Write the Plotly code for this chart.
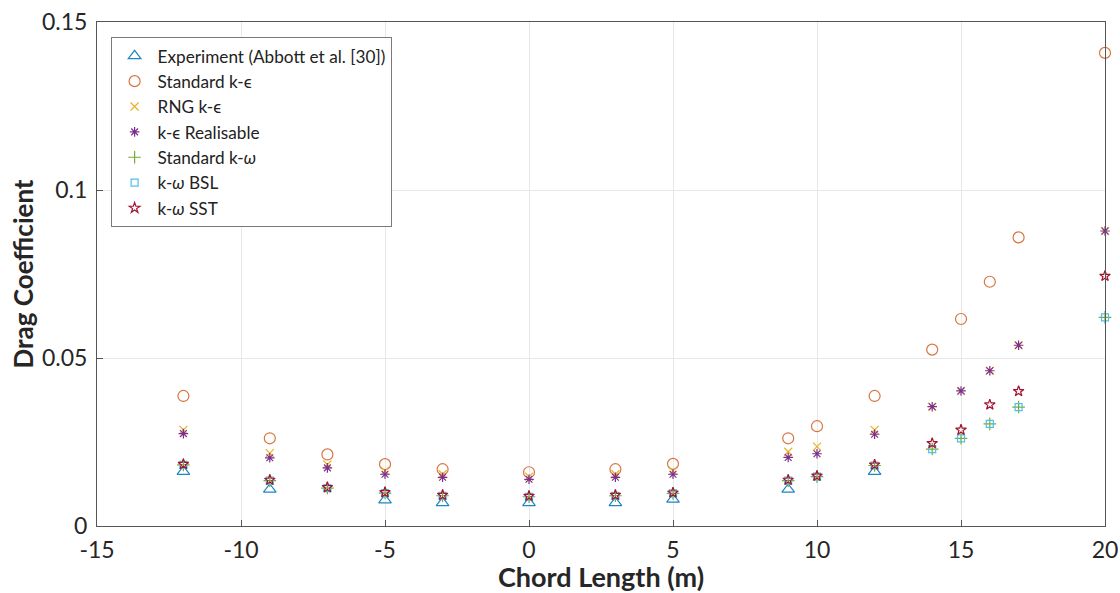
import plotly.graph_objects as go

# Data
chord = [-12, -9, -7, -5, -3, 0, 3, 5, 9, 10, 12, 14, 15, 16, 17, 20]

exp_x = [-12, -9, -5, -3, 0, 3, 5, 9, 12]
exp_cd = [0.0162, 0.0109, 0.0077, 0.0069, 0.0069, 0.0069, 0.0079, 0.0109, 0.0162]

std_ke = [0.0387, 0.0261, 0.0213, 0.0184, 0.0169, 0.0160, 0.0169, 0.0185, 0.0261, 0.0297,
          0.0387, 0.0525, 0.0616, 0.0727, 0.0859, 0.1408]
rng_ke = [0.0286, 0.0217, 0.0183, 0.0164, 0.0154, 0.0147, 0.0154, 0.0164, 0.0221, 0.0236,
          0.0286, 0.0355, 0.0402, 0.0462, 0.0538, 0.0878]
real_ke = [0.0275, 0.0203, 0.0173, 0.0154, 0.0145, 0.0139, 0.0145, 0.0154, 0.0204, 0.0215,
           0.0273, 0.0355, 0.0402, 0.0462, 0.0538, 0.0878]
std_kw = [0.0182, 0.0135, 0.0113, 0.0098, 0.0090, 0.0087, 0.0090, 0.0097, 0.0135, 0.0147,
          0.0180, 0.0229, 0.0261, 0.0304, 0.0354, 0.0621]
bsl_kw = [0.0182, 0.0135, 0.0113, 0.0098, 0.0090, 0.0087, 0.0090, 0.0097, 0.0135, 0.0147,
          0.0180, 0.0229, 0.0261, 0.0304, 0.0354, 0.0621]
sst_kw = [0.0184, 0.0137, 0.0115, 0.0100, 0.0092, 0.0089, 0.0092, 0.0099, 0.0137, 0.0149,
          0.0182, 0.0246, 0.0286, 0.0361, 0.0401, 0.0744]

x_ticks = [-15, -10, -5, 0, 5, 10, 15, 20]
x_ticklabels = ["-15", "-10", "-5", "0", "5", "10", "15", "20"]
y_ticks = [0, 0.05, 0.1, 0.15]
y_ticklabels = ["0", "0.05", "0.1", "0.15"]

series = [
    ("Experiment (Abbott et al. [30])", exp_x, exp_cd, "triangle-up-open", "#1f86c4", 11),
    ("Standard k-\u03f5", chord, std_ke, "circle-open", "#d9743f", 11),
    ("RNG k-\u03f5", chord, rng_ke, "x-thin-open", "#e8b224", 8),
    ("k-\u03f5 Realisable", chord, real_ke, "asterisk-open", "#7e2f8e", 8),
    ("Standard k-<i>\u03c9</i>", chord, std_kw, "cross-thin-open", "#77ac30", 9),
    ("k-<i>\u03c9</i> BSL", chord, bsl_kw, "square-open", "#4dbeee", 7),
    ("k-<i>\u03c9</i> SST", chord, sst_kw, "star-open", "#a2142f", 8),
]

fig = go.Figure()
for name, xs, ys, sym, col, sz in series:
    fig.add_trace(go.Scatter(
        x=xs, y=ys, mode="markers", name=name, cliponaxis=False,
        marker=dict(symbol=sym, size=sz, color=col, line=dict(color=col, width=1.2)),
    ))

font_family = "Lato, 'Open Sans', sans-serif"
fig.update_layout(
    width=1120, height=593,
    margin=dict(l=97, r=15, t=22, b=67),
    paper_bgcolor="white", plot_bgcolor="white",
    font=dict(family=font_family, color="#262626", size=23),
    showlegend=True,
    legend=dict(
        x=0.0135, y=0.97, xanchor="left", yanchor="top",
        bgcolor="white", bordercolor="#7a7a7a", borderwidth=1,
        font=dict(size=17.2, family=font_family, color="#222222"),
        tracegroupgap=0, itemwidth=36,
    ),
    xaxis=dict(
        range=[-15, 20], tickvals=x_ticks, ticktext=x_ticklabels,
        showgrid=True, gridcolor="#e8e8e8", gridwidth=1,
        zeroline=False, showline=True, linecolor="#555555", linewidth=1,
        mirror=True, ticks="inside", ticklen=6, tickcolor="#555555",
        title=dict(text="<b>Chord Length (m)</b>", font=dict(size=27), standoff=0),
        tickfont=dict(size=23), ticklabelstandoff=3, automargin=False,
    ),
    yaxis=dict(
        range=[0, 0.15], tickvals=y_ticks, ticktext=y_ticklabels,
        showgrid=True, gridcolor="#e8e8e8", gridwidth=1,
        zeroline=False, showline=True, linecolor="#555555", linewidth=1,
        mirror=True, ticks="inside", ticklen=6, tickcolor="#555555",
        title=dict(text="<b>Drag Coefficient</b>", font=dict(size=26), standoff=0),
        tickfont=dict(size=23), ticklabelstandoff=4, automargin=False,
    ),
)

fig.write_html("out.html")
